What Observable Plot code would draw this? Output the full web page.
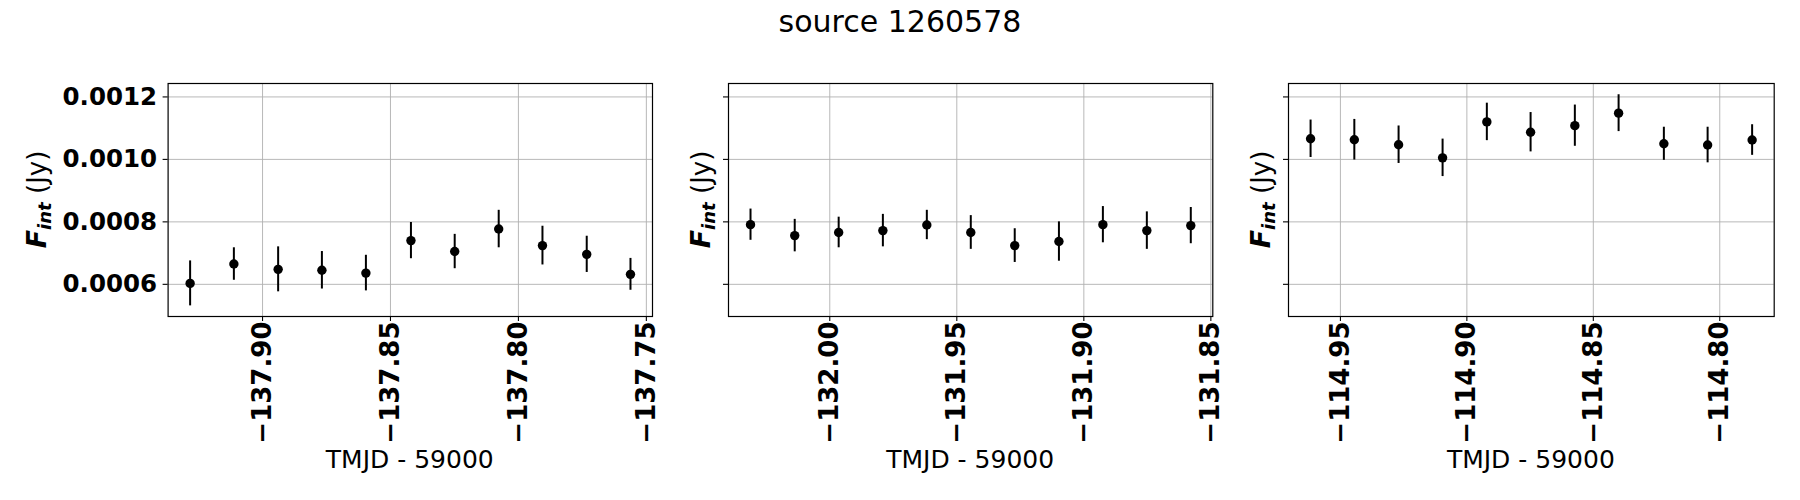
<!DOCTYPE html>
<html>
<head>
<meta charset="utf-8">
<script src="https://cdn.jsdelivr.net/npm/d3@7"></script>
<script src="https://cdn.jsdelivr.net/npm/@observablehq/plot@0.6"></script>
<style>
  body { margin: 0; background: white; }
  #wrap { position: relative; width: 1800px; height: 500px; background: white; font-family: "DejaVu Sans", sans-serif; }
  #title { position: absolute; left: 0; top: 4px; width: 1800px; text-align: center; font-size: 30px; line-height: 36px; color: #000; }
  .panel { position: absolute; top: 0; }
  .panel svg { overflow: visible; background: transparent !important; max-width: none !important; }
</style>
</head>
<body>
<div id="wrap">
  <div id="title">source 1260578</div>
</div>
<script>
// ---- data ----
const x1 = [-137.9283, -137.9112, -137.8939, -137.8768, -137.8596, -137.8420, -137.8249, -137.8077, -137.7906, -137.7733, -137.7562];
const f1 = [0.000603, 0.000665, 0.000648, 0.000645, 0.000636, 0.000740, 0.000705, 0.000777, 0.000724, 0.000696, 0.000632];
const e1 = [0.000072, 0.000052, 0.000072, 0.000060, 0.000057, 0.000058, 0.000055, 0.000060, 0.000062, 0.000058, 0.000051];

const x2 = [-132.0312, -132.0138, -131.9965, -131.9791, -131.9618, -131.9445, -131.9272, -131.9098, -131.8925, -131.8752, -131.8579];
const f2 = [0.000791, 0.000756, 0.000766, 0.000772, 0.000790, 0.000766, 0.000724, 0.000737, 0.000791, 0.000772, 0.000788];
const e2 = [0.000050, 0.000052, 0.000049, 0.000052, 0.000047, 0.000054, 0.000054, 0.000063, 0.000058, 0.000060, 0.000058];

const x3 = [-114.9618, -114.9445, -114.9270, -114.9096, -114.8921, -114.8748, -114.8573, -114.8400, -114.8221, -114.8048, -114.7872];
const f3 = [0.001066, 0.001063, 0.001047, 0.001005, 0.001120, 0.001087, 0.001108, 0.001148, 0.001050, 0.001046, 0.001062];
const e3 = [0.000060, 0.000065, 0.000060, 0.000060, 0.000060, 0.000063, 0.000066, 0.000059, 0.000053, 0.000057, 0.000049];

const xTicks1 = [-137.90, -137.85, -137.80, -137.75];
const xTicks2 = [-132.00, -131.95, -131.90, -131.85];
const xTicks3 = [-114.95, -114.90, -114.85, -114.80];
const yTicks = [0.0006, 0.0008, 0.0010, 0.0012];

const xLabel = "TMJD - 59000";

// ---- layout ----
const H = 500, MT = 83, MB = 184;
const yDomain = [0.000497, 0.001243];

const panels = [
  {xs: x1, fs: f1, es: e1, ticks: xTicks1, left: 0,    width: 690, ml: 167.6, mr: 38,   yLabels: true,  ylabX: 46},
  {xs: x2, fs: f2, es: e2, ticks: xTicks2, left: 690,  width: 560, ml: 38,    mr: 37.7, yLabels: false, ylabX: 19.5},
  {xs: x3, fs: f3, es: e3, ticks: xTicks3, left: 1250, width: 550, ml: 38,    mr: 26.3, yLabels: false, ylabX: 20}
];

function pad(xs) {
  const lo = d3.min(xs), hi = d3.max(xs), m = (hi - lo) * 0.05;
  return [lo - m, hi + m];
}

const wrap = document.getElementById("wrap");

panels.forEach(p => {
  const data = p.xs.map((x, i) => ({x, f: p.fs[i], e: p.es[i]}));
  const svg = Plot.plot({
    width: p.width,
    height: H,
    marginLeft: p.ml,
    marginRight: p.mr,
    marginTop: MT,
    marginBottom: MB,
    style: {fontFamily: "DejaVu Sans, sans-serif", background: "transparent", overflow: "visible", color: "black"},
    x: {domain: pad(p.xs)},
    y: {domain: yDomain},
    marks: [
      Plot.gridX(p.ticks, {stroke: "#b0b0b0", strokeOpacity: 1, strokeWidth: 0.9}),
      Plot.gridY(yTicks, {stroke: "#b0b0b0", strokeOpacity: 1, strokeWidth: 0.9}),
      Plot.axisX({
        ticks: p.ticks, tickFormat: d3.format(".2f"), tickSize: 5, tickPadding: 0,
        tickRotate: -90, textAnchor: "end", lineAnchor: "middle",
        fontSize: 26, fontWeight: "bold", label: null, stroke: "black", strokeWidth: 1.1
      }),
      Plot.axisY({
        ticks: yTicks, tickFormat: p.yLabels ? d3.format(".4f") : () => "",
        tickSize: 5, tickPadding: 6, fontSize: 24.5, fontWeight: "bold",
        label: null, stroke: "black", strokeWidth: 1.1
      }),
      Plot.ruleX(data, {x: "x", y1: d => d.f - d.e, y2: d => d.f + d.e, stroke: "black", strokeWidth: 2}),
      Plot.dot(data, {x: "x", y: "f", r: 4.7, fill: "black", stroke: "none"}),
      Plot.frame({stroke: "black", strokeWidth: 1.2})
    ]
  });

  const s = d3.select(svg);
  // y-axis label with subscript
  const cy = MT + (H - MT - MB) / 2;
  const t = s.append("text")
    .attr("transform", `translate(${p.ylabX},${cy}) rotate(-90)`)
    .attr("text-anchor", "middle")
    .attr("font-size", 26)
    .attr("fill", "black")
    .style("font-family", "DejaVu Sans, sans-serif");
  t.append("tspan").attr("font-weight", "bold").attr("font-style", "italic").attr("font-size", 27).text("F");
  t.append("tspan").attr("font-weight", "bold").attr("font-style", "italic").attr("font-size", 18).attr("dy", 5).text("int");
  t.append("tspan").attr("dy", -5).text(" (Jy)");

  // x-axis label
  s.append("text")
    .attr("x", p.ml + (p.width - p.ml - p.mr) / 2)
    .attr("y", 468)
    .attr("text-anchor", "middle")
    .attr("font-size", 25)
    .attr("fill", "black")
    .style("font-family", "DejaVu Sans, sans-serif")
    .text(xLabel);

  const div = document.createElement("div");
  div.className = "panel";
  div.style.left = p.left + "px";
  div.appendChild(svg);
  wrap.appendChild(div);
});
</script>
</body>
</html>
